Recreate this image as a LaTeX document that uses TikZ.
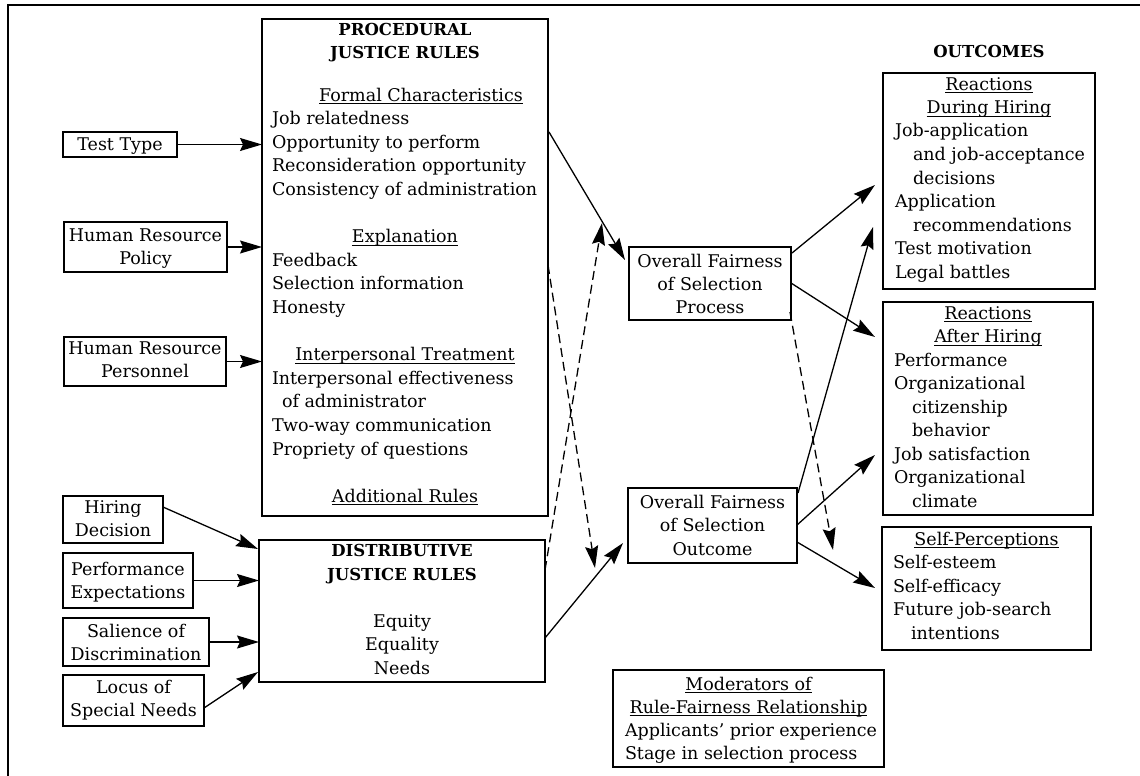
\documentclass[tikz,border=0pt]{standalone}
\usepackage{fontspec}
\setmainfont{DejaVu Serif}
\usetikzlibrary{arrows.meta,calc}

% underlined heading text
\newcommand\uln[1]{\setbox0\hbox{#1}\rlap{\rule[-3pt]{\wd0}{0.9pt}}\box0}
% left-aligned text block; #1 is the width over which headings are centred
\newlength\hdwidth
\newcommand\txtblock[2]{\parbox[t]{420pt}{\raggedright\setlength\hdwidth{#1}#2}}
% centred text block
\newcommand\ctrblock[1]{\parbox[t]{300pt}{\centering #1}}
\newcommand\ctr[1]{\makebox[\hdwidth][c]{#1}}
\newcommand\ind{\hspace*{18pt}}
\newcommand\bhead[1]{{\fontsize{16.5}{23.5}\selectfont\bfseries #1}}

\begin{document}
\begin{tikzpicture}[x=1pt,y=-1pt,
  box/.style={draw, line width=1.3pt, inner sep=0pt, outer sep=0pt, anchor=north west},
  txt/.style={inner sep=0pt, outer sep=0pt, anchor=base west, font=\fontsize{17.5}{23.6}\selectfont},
  ctxt/.style={inner sep=0pt, outer sep=0pt, anchor=base, font=\fontsize{17.5}{23}\selectfont},
  hd/.style={inner sep=0pt, outer sep=0pt, anchor=base, font=\fontsize{16.5}{23}\selectfont\bfseries},
  link/.style={line width=1.3pt, -{Stealth[length=22pt,width=13pt,inset=3pt]}},
  dlink/.style={link, dash pattern=on 9pt off 5pt},
]
\useasboundingbox (0,0) rectangle (1140,776);

% frame
\draw[line width=2.6pt] (8,776) -- (8,5) -- (1140,5);

% ---- rule boxes
\node[box, minimum width=286pt, minimum height=497pt] (proc) at (262,19) {};
\node[box, minimum width=286pt, minimum height=142pt] (dist) at (259,540) {};

\node[hd] (proc-h) at ($(proc.north)+(0,17)$) {\ctrblock{PROCEDURAL\\JUSTICE RULES}};
\node[txt] (proc-t) at ($(proc.north west)+(10,82)$) {\txtblock{266pt}{%
\ctr{\hspace{32pt}\uln{Formal Characteristics}}\\
Job relatedness\\
Opportunity to perform\\
Reconsideration opportunity\\
Consistency of administration\\[\baselineskip]
\ctr{\uln{Explanation}}\\
Feedback\\
Selection information\\
Honesty\\[\baselineskip]
\ctr{\uln{Interpersonal Treatment}}\\
Interpersonal effectiveness\\
\hspace*{10pt}of administrator\\
Two-way communication\\
Propriety of questions\\[\baselineskip]
\ctr{\uln{Additional Rules}}}};

\node[ctxt, font=\fontsize{17.5}{23.5}\selectfont] (dist-t) at ($(dist.north)+(0,16.5)$) {\ctrblock{%
\bhead{DISTRIBUTIVE}\\ \bhead{JUSTICE RULES}\\[\baselineskip]
Equity\\ Equality\\ Needs}};

% ---- antecedents
\node[box, minimum width=114pt, minimum height=25pt] (tt) at (63,132) {};
\node[ctxt] (tt-t) at ($(tt.north)+(0,18)$) {\ctrblock{Test Type}};
\node[box, minimum width=163pt, minimum height=50pt] (hrpol) at (64,222) {};
\node[ctxt] (hrpol-t) at ($(hrpol.north)+(0,19)$) {\ctrblock{Human Resource\\Policy}};
\node[box, minimum width=162pt, minimum height=49pt] (hrpers) at (64,337) {};
\node[ctxt] (hrpers-t) at ($(hrpers.north)+(0,17)$) {\ctrblock{Human Resource\\Personnel}};
\node[box, minimum width=100pt, minimum height=47pt] (hire) at (63,496) {};
\node[ctxt] (hire-t) at ($(hire.north)+(0,17)$) {\ctrblock{Hiring\\Decision}};
\node[box, minimum width=130pt, minimum height=55pt] (perf) at (63,553) {};
\node[ctxt] (perf-t) at ($(perf.north)+(0,22)$) {\ctrblock{Performance\\Expectations}};
\node[box, minimum width=146pt, minimum height=48pt] (sal) at (63,618) {};
\node[ctxt] (sal-t) at ($(sal.north)+(0,19)$) {\ctrblock{Salience of\\Discrimination}};
\node[box, minimum width=141pt, minimum height=51pt] (locus) at (63,675) {};
\node[ctxt] (locus-t) at ($(locus.north)+(0,18)$) {\ctrblock{Locus of\\Special Needs}};

% ---- fairness
\node[box, minimum width=162pt, minimum height=73pt] (fproc) at (629,247) {};
\node[ctxt] (fproc-t) at ($(fproc.north)+(0,20)$) {\ctrblock{Overall Fairness\\of Selection\\Process}};
\node[box, minimum width=169pt, minimum height=75pt] (fout) at (628,488) {};
\node[ctxt, font=\fontsize{17.5}{23.5}\selectfont] (fout-t) at ($(fout.north)+(0,20)$) {\ctrblock{Overall Fairness\\of Selection\\Outcome}};

% ---- outcomes
\node[box, minimum width=212pt, minimum height=216pt] (during) at (883,73) {};
\node[hd] (outc) at ($(during.north)+(0,-15)$) {OUTCOMES};
\node[txt, font=\fontsize{17.5}{23.5}\selectfont] (during-t) at ($(during.north west)+(12,17)$) {\txtblock{188pt}{%
\ctr{\uln{Reactions}}\\
\ctr{\uln{During Hiring}}\\
Job-application\\
\ind and job-acceptance\\
\ind decisions\\
Application\\
\ind recommendations\\
Test motivation\\
Legal battles}};

\node[box, minimum width=210pt, minimum height=213pt] (after) at (883,302) {};
\node[txt, font=\fontsize{17.5}{23.5}\selectfont] (after-t) at ($(after.north west)+(11,17)$) {\txtblock{188pt}{%
\ctr{\uln{Reactions}}\\
\ctr{\uln{After Hiring}}\\
Performance\\
Organizational\\
\ind citizenship\\
\ind behavior\\
Job satisfaction\\
Organizational\\
\ind climate}};

\node[box, minimum width=209pt, minimum height=123pt] (selfp) at (882,527) {};
\node[txt, font=\fontsize{17.5}{23.5}\selectfont] (selfp-t) at ($(selfp.north west)+(11,18)$) {\txtblock{187pt}{%
\ctr{\uln{Self-Perceptions}}\\
Self-esteem\\
Self-efficacy\\
Future job-search\\
\ind intentions}};

\node[box, minimum width=271pt, minimum height=97pt] (moder) at (613,670) {};
\node[txt, font=\fontsize{17.5}{23}\selectfont] (moder-t) at ($(moder.north west)+(12,20)$) {\txtblock{247pt}{%
\ctr{\uln{Moderators of}}\\
\ctr{\uln{Rule-Fairness Relationship}}\\
Applicants' prior experience\\
Stage in selection process}};

% ---- antecedents to rules
\draw[link] (tt.east) -- (proc.west |- tt.east);
\draw[link] (hrpol.east) -- (proc.west |- hrpol.east);
\draw[link] (hrpers.east) -- (proc.west |- hrpers.east);
\draw[link] ($(hire.north east)+(0,11)$) -- ($(dist.north west)+(-1,9)$);
\draw[link] (perf.east) -- (dist.west |- perf.east);
\draw[link] (sal.east) -- (dist.west |- sal.east);
\draw[link] ($(locus.north east)+(0,33)$) -- ($(dist.south west)+(-1,-10)$);

% ---- rules to fairness
\draw[link] ($(proc.north east)+(1,113)$) -- ($(fproc.north west)+(-4,13)$);
\draw[link] ($(dist.south east)+(0,-44)$) -- ($(fout.north west)+(-5,55)$);
\draw[dlink] ($(dist.north east)+(0,30)$) -- ($(fproc.north west)+(-27,-24)$);
\draw[dlink] ($(proc.north east)+(0,246)$) -- ($(fout.north west)+(-33,80)$);

% ---- fairness to outcomes
\draw[link] ($(fproc.north east)+(1,6)$) -- ($(during.north west)+(-8,112)$);
\draw[link] ($(fproc.north east)+(0,36)$) -- ($(after.north west)+(-8,35)$);
\draw[link] ($(fout.north east)+(1,5)$) -- ($(during.north west)+(-10,154)$);
\draw[link] ($(fout.north east)+(0,37)$) -- ($(after.north west)+(-8,153)$);
\draw[link] ($(fout.north east)+(0,54)$) -- ($(selfp.north west)+(-7,61)$);
\draw[dlink] ($(fproc.south east)+(-1,-8)$) -- ($(selfp.north west)+(-49,23)$);
\end{tikzpicture}
\end{document}
